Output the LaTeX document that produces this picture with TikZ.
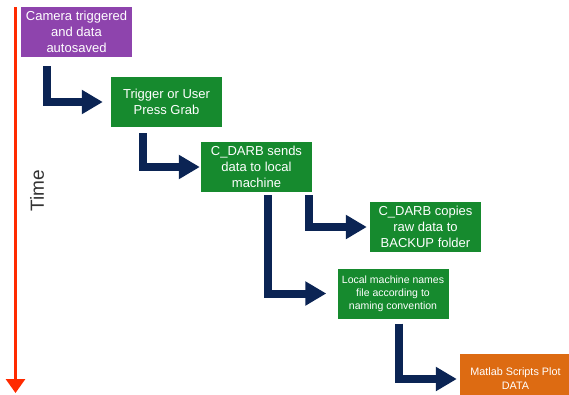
\documentclass[tikz,border=0pt]{standalone}
\usepackage{fontspec}
\setmainfont{Liberation Sans}
\usetikzlibrary{arrows.meta}
\definecolor{stepPurple}{RGB}{142,68,173}
\definecolor{stepGreen}{RGB}{22,138,46}
\definecolor{stepOrange}{RGB}{221,107,18}
\definecolor{flowNavy}{RGB}{11,36,84}
\definecolor{timeRed}{RGB}{255,42,0}

\begin{document}
\begin{tikzpicture}[x=1pt,y=-1pt,box/.style={shape=rectangle,minimum width=111pt,minimum height=50pt,inner sep=0pt,align=center,text=white,font=\fontsize{13}{16}\selectfont},boxP/.style={box,fill=stepPurple},boxG/.style={box,fill=stepGreen},boxO/.style={box,fill=stepOrange},flow/.style={draw=flowNavy,line width=8pt,line join=miter,-{Triangle[width=23pt,length=21pt]}}]
\useasboundingbox (0,0) rectangle (569,394);
\clip (0,0) rectangle (569,394);

% time axis
\coordinate (t0) at (15.5,7);
\coordinate (t1) at (15.5,393);
\draw[timeRed,line width=3pt,-{Triangle[width=19pt,length=14pt]}] (t0) -- (t1);
\node[rotate=90,text=black!80,font=\fontsize{19}{22}\selectfont] (time) at (37,191) {Time};

\node[boxP] (cam) at (76.5,32) {Camera triggered\\and data\\autosaved};
\node[boxG] (grab) at (166.5,102) {Trigger or User\\Press Grab};
\node[boxG] (sends) at (256.5,167) {C\_DARB sends\\data to local\\machine};
\node[boxG] (backup) at (425.5,227) {C\_DARB copies\\raw data to\\BACKUP folder};
\node[boxG,font=\fontsize{10.5}{13}\selectfont] (names) at (393,293.5) {Local machine names\\file according to\\naming convention};
\node[boxO,font=\fontsize{10.8}{14}\selectfont] (plot) at (515.5,379) {Matlab Scripts Plot\\DATA};

\draw[flow,shorten >=8pt] ([xshift=26pt,yshift=-9pt]cam.south west) |- (grab.west);
\draw[flow,shorten >=1pt] ([xshift=32pt,yshift=-6pt]grab.south west) |- (sends.west);
\draw[flow,shorten >=3pt] ([xshift=-3.5pt,yshift=-3pt]sends.south east) |- (backup.west);
\draw[flow,shorten >=11pt] ([xshift=67pt,yshift=-3pt]sends.south west) |- (names.west);
\draw[flow,shorten >=3pt] ([xshift=62pt,yshift=-5pt]names.south west) |- (plot.west);

\end{tikzpicture}
\end{document}
